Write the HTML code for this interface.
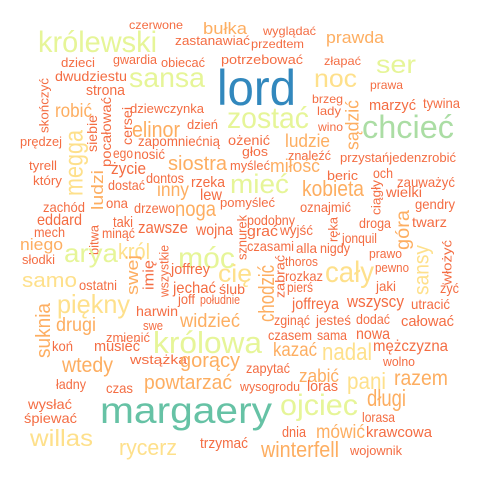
<!DOCTYPE html>
<html><head><meta charset="utf-8"><style>
html,body{margin:0;padding:0;background:#fff}
svg{display:block}
text{font-family:"Liberation Sans",sans-serif}
</style></head><body>
<svg id="cloud" width="480" height="480" viewBox="0 0 480 480"></svg>
<script>
// words and their sizes (font px, proportional to frequency)
const words = ["czerwone","bułka","królewski","zastanawiać","dzieci","gwardia","obiecać","potrzebować","wyglądać","przedtem",
"prawda","złapać","ser","noc","lord","sansa","dwudziestu","prawa","strona","skończyć",
"robić","siebie","pocałować","cersei","dziewczynka","brzeg","lady","wino","marzyć","tywina",
"sądzić","chcieć","zostać","elinor","dzień","ożenić","ludzie","prędzej","megga","zapomniećnią",
"ego","nosić","głos","znaleźć","przystańjedenzrobić","tyrell","siostra","życie","myśleć","miłość",
"beric","och","zauważyć","który","ludzi","dontos","rzeka","mieć","kobieta","dostać",
"inny","lew","ciągły","wielki","gendry","zachód","ona","drzewo","noga","pomyśleć",
"oznajmić","podobny","eddard","taki","mech","bitwa","minąć","zawsze","wojna","sznurek",
"grać","wyjść","ręka","droga","twarz","góra","jonquil","niego","słodki","arya",
"król","wszystkie","móc","czasami","alla","nigdy","prawo","sansy","włożyć","samo",
"ostatni","swej","imię","joffrey","cię","chodzić","zabrać","thoros","cały","pewno",
"rozkaz","jechać","ślub","pierś","jaki","żyć","piękny","joff","południe","joffreya",
"wszyscy","utracić","harwin","suknia","widzieć","drugi","swe","zmienić","zginąć","jesteś",
"dodać","całować","czasem","sama","nowa","koń","musieć","królowa","kazać","nadal",
"mężczyzna","wtedy","wstążka","gorący","wolno","zapytać","zabić","pani","razem","ładny",
"czas","powtarzać","wysogrodu","loras","wysłać","śpiewać","margaery","ojciec","długi","lorasa",
"willas","rycerz","trzymać","dnia","mówić","krawcowa","winterfell","wojownik"];
const sizes = [12,17,30,13,13,13,13,13,12,12,
17,12,25,25,50,28,14,12,15,13,
19,14,14,14,13,12,12,12,15,14,
18,32,30,22,13,14,18,13,26,14,
14,14,13,13,13,13,20,17,13,18,
13,14,14,13,17,14,15,27,22,14,
19,16,13,14,14,14,14,14,21,13,
14,14,16,15,14,13,14,17,16,13,
15,14,13,14,14,19,14,17,13,26,
22,13,30,14,14,14,13,21,13,20,
14,17,15,15,25,22,13,13,30,13,
14,16,14,14,14,14,26,14,13,16,
17,14,14,20,19,19,13,13,14,14,
14,15,14,14,16,14,15,31,19,24,
16,21,13,20,13,14,18,23,21,14,
14,20,13,15,14,14,37,30,23,14,
23,22,15,15,19,15,22,13];
// colour class per word: R coral, O orange, Y yellow, L light green, G green, T teal, B blue
const colorKeys = ["R","O","L","R","R","R","R","R","R","R",
"O","R","L","Y","B","L","R","R","R","R",
"O","R","R","R","R","R","R","R","R","R",
"O","G","L","O","R","R","O","R","Y","R",
"R","R","R","R","R","R","O","R","R","O",
"R","R","R","R","O","R","R","L","O","R",
"O","R","R","R","R","R","R","R","O","R",
"R","R","R","R","R","R","R","R","R","R",
"R","R","R","R","R","O","R","O","R","L",
"Y","R","L","R","R","R","R","Y","R","Y",
"R","O","R","R","Y","O","R","R","Y","R",
"R","R","R","R","R","R","Y","R","R","R",
"R","R","R","O","O","O","R","R","R","R",
"R","R","R","R","R","R","R","L","O","Y",
"R","O","R","O","R","R","O","Y","O","R",
"R","O","R","R","R","R","T","L","O","R",
"Y","Y","R","R","O","R","O","R"];
const palette = {R:"#f46d43",O:"#fdae61",Y:"#fee08b",L:"#e6f598",G:"#abdda4",T:"#66c2a5",B:"#3288bd"};
// layout (placement, not data): [x0, x1, baseline] for horizontal; [cx, y0, y1, "v"] for vertical
const layout = [[129,183,29],[203,247,34],[38,157,52],[175,250,45],[61,95,67],[113,157,64],[161,205,67],[221,303,64],[263,316,35],[251,304,48],[326,384,43],[324,361,65],[376,416,73],[314,357,87],[217,296,105],[129,205,87],[55,127,81],[370,403,89],[86,125,95],[44,78,133,"v"],[55,92,117],[92,115,152,"v"],[106,97,167,"v"],[127,107,145,"v"],[130,204,113],[312,343,103],[317,341,115],[318,343,131],[369,416,110],[423,460,108],[352,100,150,"v"],[362,454,138],[227,309,128],[132,180,137],[187,218,129],[228,270,145],[285,330,147],[20,62,146],[73,130,196,"v"],[138,220,146],[113,133,158],[134,165,159],[242,268,156],[288,331,160],[340,456,162],[29,57,170],[168,227,170],[111,146,174],[230,270,170],[270,320,172],[327,358,180],[373,393,178],[397,455,187],[33,62,185],[97,170,210,"v"],[146,184,183],[191,225,187],[230,289,193],[302,364,196],[108,145,190],[157,189,196],[200,222,200],[376,180,215,"v"],[386,422,197],[415,455,209],[43,85,212],[106,128,208],[134,175,213],[175,216,216],[220,275,207],[300,351,212],[247,295,225],[37,82,225],[113,133,227],[34,65,237],[94,225,255,"v"],[102,135,238],[138,188,233],[196,233,235],[242,215,260,"v"],[247,278,236],[280,313,235],[333,217,242,"v"],[359,391,228],[412,447,227],[402,210,250,"v"],[342,377,243],[20,63,250],[22,55,264],[64,118,262],[118,150,259],[164,245,297,"v"],[178,235,268],[247,294,251],[296,317,253],[320,350,253],[369,402,258],[421,245,295,"v"],[447,240,285,"v"],[22,77,287],[79,117,290],[132,255,295,"v"],[148,260,290,"v"],[171,210,274],[218,252,282],[266,265,322,"v"],[280,255,298,"v"],[285,318,266],[325,374,282],[375,409,272],[285,323,281],[173,216,293],[219,245,294],[287,313,292],[376,396,291],[440,459,293],[57,130,313],[178,195,304],[200,240,304],[292,339,309],[347,404,307],[411,450,309],[136,178,316],[43,303,358,"v"],[180,240,327],[56,96,331],[143,163,330],[106,150,342],[274,310,325],[316,351,325],[356,390,324],[401,454,326],[268,312,340],[317,347,340],[356,390,339],[52,73,351],[94,140,351],[153,262,353],[273,317,356],[322,372,360],[373,448,351],[62,113,372],[130,187,364],[180,240,367],[383,415,366],[246,290,373],[299,339,382],[347,386,389],[394,448,385],[56,86,389],[106,133,393],[144,232,389],[240,300,391],[307,338,391],[28,72,409],[24,77,423],[100,272,423],[280,358,415],[367,406,406],[362,395,422],[30,93,446],[119,177,455],[200,248,448],[282,306,437],[316,365,438],[366,432,437],[261,339,457],[350,402,455]];

const svg = document.getElementById('cloud');
const NS = "http://www.w3.org/2000/svg";
words.forEach((w, i) => {
  const L = layout[i];
  if (!L) return;
  const t = document.createElementNS(NS, 'text');
  
  
  t.setAttribute('font-size', sizes[i]);
  t.setAttribute('fill', palette[colorKeys[i]] || palette.R);
  t.setAttribute('lengthAdjust', 'spacingAndGlyphs');
  if (L[3] === 'v') {
    const cx = L[0], cy = (L[1] + L[2]) / 2;
    t.setAttribute('text-anchor', 'middle');
    t.setAttribute('x', 0);
    t.setAttribute('y', sizes[i] * 0.36);
    t.setAttribute('textLength', L[2] - L[1]);
    t.setAttribute('transform', 'translate(' + cx + ',' + cy + ') rotate(-90)');
  } else {
    t.setAttribute('x', L[0]);
    t.setAttribute('y', L[2]);
    t.setAttribute('textLength', L[1] - L[0]);
  }
  t.textContent = w;
  svg.appendChild(t);
});
</script>
</body></html>
